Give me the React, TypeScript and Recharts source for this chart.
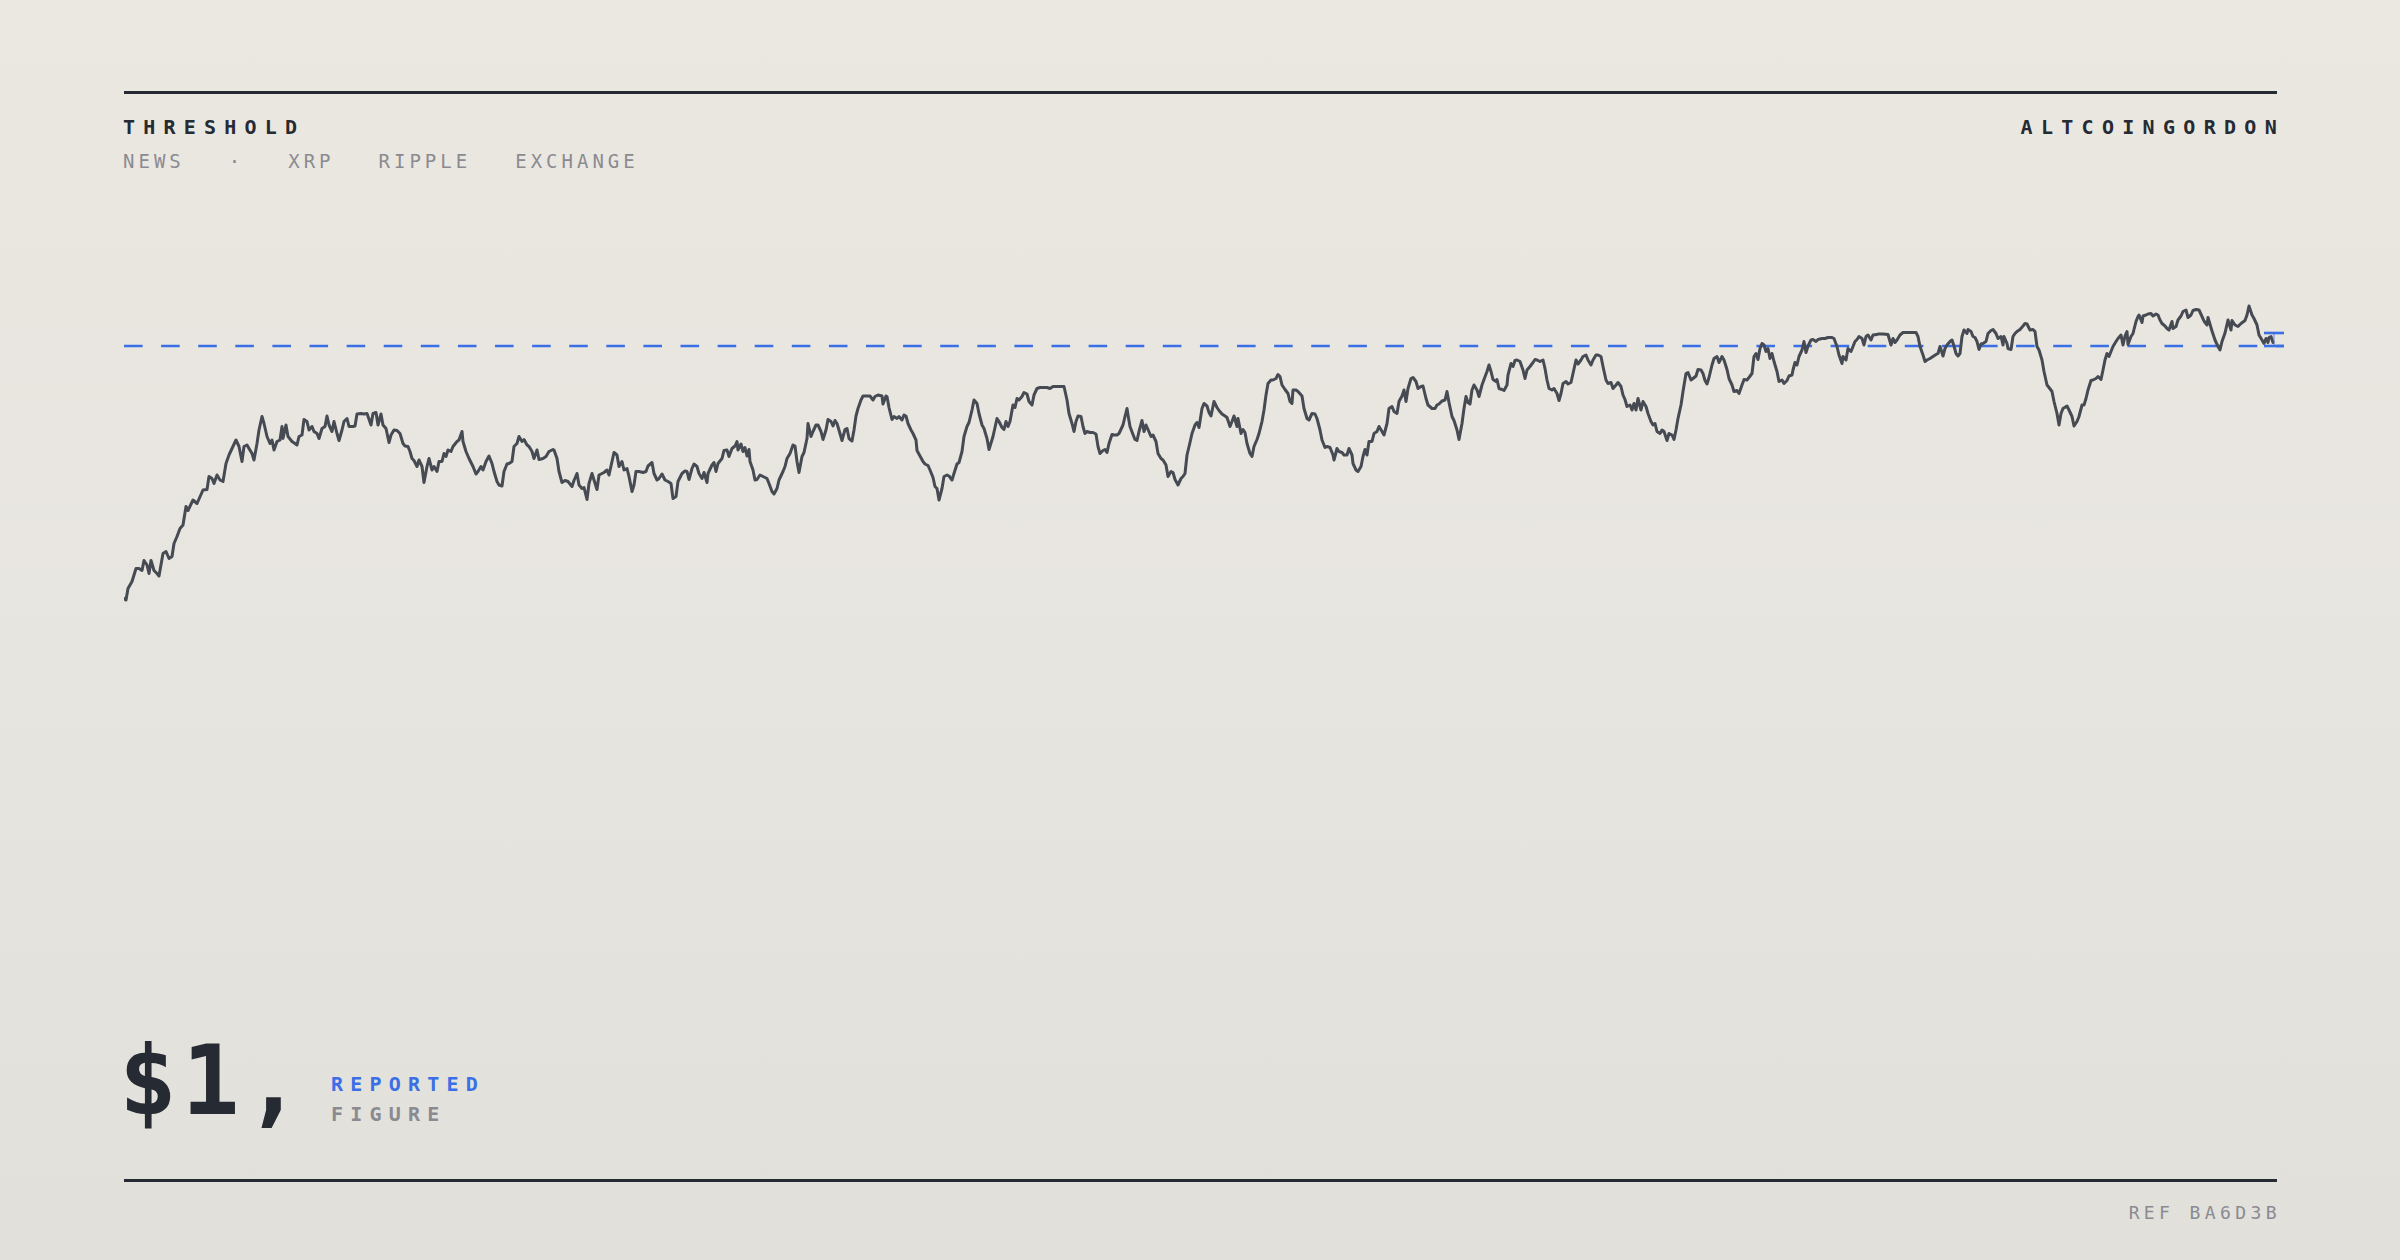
import React from 'react';
import { LineChart, Line, XAxis, YAxis, ReferenceLine } from 'recharts';

// [hour, price] readings, split into five stretches of the series
const stretch1: [number, number][] = [
  [0, 0.495], [2, 0.492], [4, 0.515], [8, 0.529], [12, 0.555], [15, 0.555], [18, 0.551], [20, 0.571],
  [23, 0.562], [25, 0.545], [27, 0.571], [30, 0.551], [33, 0.545], [35, 0.54], [39, 0.585], [42, 0.589],
  [45, 0.575], [48, 0.579], [50, 0.605], [53, 0.619], [56, 0.635], [59, 0.642], [62, 0.679], [64, 0.671],
  [69, 0.692], [73, 0.685], [79, 0.712], [83, 0.713], [85, 0.739], [88, 0.735], [90, 0.725], [93, 0.742],
  [96, 0.732], [99, 0.729], [102, 0.765], [105, 0.782], [108, 0.795], [112, 0.812], [115, 0.799], [118, 0.769],
  [120, 0.799], [123, 0.802], [125, 0.795], [128, 0.785], [130, 0.772], [133, 0.805], [135, 0.832], [138, 0.859],
  [140, 0.845], [143, 0.819], [146, 0.805], [148, 0.812], [150, 0.792], [153, 0.809], [156, 0.812], [158, 0.839],
  [159, 0.815], [162, 0.842], [164, 0.819], [168, 0.809], [171, 0.805], [173, 0.802], [175, 0.819], [178, 0.822],
  [180, 0.853], [183, 0.849], [185, 0.832], [188, 0.839], [190, 0.829], [193, 0.825], [195, 0.815], [198, 0.835],
  [201, 0.839], [203, 0.86], [205, 0.842], [208, 0.829], [210, 0.849], [213, 0.825], [215, 0.811], [218, 0.832],
  [220, 0.849], [223, 0.855], [225, 0.839], [229, 0.839], [231, 0.84], [233, 0.864], [237, 0.865], [240, 0.864],
  [243, 0.865], [247, 0.842], [249, 0.865], [252, 0.867], [254, 0.842], [257, 0.864], [259, 0.842], [262, 0.835],
  [265, 0.807], [267, 0.822], [270, 0.832], [273, 0.831], [276, 0.825], [279, 0.805], [281, 0.8], [284, 0.799],
  [286, 0.789], [288, 0.775], [290, 0.771], [293, 0.759], [295, 0.772], [298, 0.759], [300, 0.727], [303, 0.759],
  [305, 0.775], [308, 0.752], [310, 0.759], [313, 0.749], [315, 0.769], [318, 0.769], [320, 0.785], [322, 0.779],
  [324, 0.792], [327, 0.789], [329, 0.799], [333, 0.809], [335, 0.812], [338, 0.829], [339, 0.809], [342, 0.789],
  [345, 0.775], [349, 0.759], [352, 0.744], [354, 0.749], [357, 0.759], [359, 0.752], [362, 0.769], [365, 0.78],
  [368, 0.765], [370, 0.749], [373, 0.729], [375, 0.722], [378, 0.72], [380, 0.749], [383, 0.764], [385, 0.765],
  [388, 0.769], [390, 0.799], [393, 0.805], [395, 0.819], [398, 0.809], [400, 0.813], [403, 0.802], [405, 0.799],
  [408, 0.789], [410, 0.775], [413, 0.792], [415, 0.773], [419, 0.775], [422, 0.779], [425, 0.789], [429, 0.793],
];

const stretch2: [number, number][] = [
  [430, 0.792], [433, 0.775], [435, 0.749], [438, 0.727], [441, 0.731], [444, 0.729], [448, 0.719], [450, 0.731],
  [453, 0.745], [455, 0.722], [458, 0.715], [460, 0.717], [463, 0.693], [465, 0.725], [468, 0.745], [470, 0.732],
  [473, 0.713], [475, 0.742], [478, 0.745], [480, 0.747], [483, 0.752], [485, 0.742], [488, 0.769], [490, 0.787],
  [493, 0.782], [495, 0.759], [498, 0.769], [500, 0.752], [503, 0.755], [505, 0.739], [508, 0.709], [510, 0.722],
  [512, 0.749], [515, 0.749], [519, 0.747], [522, 0.749], [524, 0.76], [528, 0.767], [530, 0.745], [533, 0.732],
  [535, 0.735], [538, 0.744], [541, 0.732], [544, 0.729], [547, 0.725], [549, 0.695], [552, 0.699], [554, 0.729],
  [558, 0.745], [561, 0.75], [563, 0.749], [565, 0.733], [568, 0.755], [570, 0.764], [573, 0.759], [575, 0.745],
  [578, 0.735], [580, 0.747], [583, 0.727], [584, 0.745], [588, 0.762], [590, 0.767], [592, 0.749], [594, 0.765],
  [598, 0.775], [600, 0.791], [603, 0.792], [605, 0.779], [608, 0.795], [611, 0.8], [613, 0.809], [614, 0.792],
  [617, 0.804], [619, 0.789], [621, 0.797], [623, 0.78], [625, 0.793], [626, 0.769], [629, 0.752], [631, 0.732],
  [633, 0.733], [636, 0.742], [639, 0.739], [643, 0.735], [645, 0.725], [648, 0.709], [650, 0.704], [653, 0.715],
  [655, 0.732], [659, 0.749], [661, 0.759], [663, 0.775], [666, 0.785], [669, 0.802], [671, 0.8], [673, 0.769],
  [675, 0.747], [678, 0.779], [680, 0.787], [683, 0.815], [684, 0.845], [687, 0.819], [689, 0.829], [692, 0.842],
  [694, 0.842], [697, 0.829], [699, 0.813], [702, 0.832], [704, 0.853], [707, 0.849], [709, 0.84], [711, 0.851],
  [713, 0.845], [716, 0.825], [718, 0.811], [721, 0.833], [723, 0.835], [725, 0.815], [728, 0.81], [730, 0.832],
  [732, 0.86], [734, 0.875], [737, 0.892], [739, 0.9], [743, 0.9], [746, 0.9], [749, 0.892], [751, 0.899],
  [754, 0.902], [758, 0.9], [759, 0.884], [762, 0.9], [763, 0.899], [765, 0.877], [768, 0.853], [770, 0.859],
  [773, 0.855], [775, 0.859], [778, 0.852], [780, 0.862], [782, 0.86], [784, 0.845], [787, 0.832], [789, 0.825],
  [792, 0.812], [793, 0.791], [796, 0.78], [799, 0.769], [801, 0.764], [804, 0.761], [806, 0.752], [809, 0.737],
  [811, 0.719], [813, 0.715], [815, 0.692], [818, 0.715], [820, 0.739], [823, 0.742], [825, 0.74], [828, 0.732],
  [830, 0.745], [833, 0.764], [835, 0.767], [838, 0.789], [840, 0.819], [843, 0.839], [845, 0.847], [848, 0.872],
  [850, 0.892], [853, 0.885], [855, 0.865], [858, 0.842], [860, 0.835], [863, 0.815], [865, 0.793],
];

const stretch3: [number, number][] = [
  [869, 0.819], [873, 0.855], [875, 0.849], [878, 0.837], [880, 0.833], [882, 0.849], [884, 0.839], [886, 0.849],
  [889, 0.882], [891, 0.877], [893, 0.895], [895, 0.892], [898, 0.899], [900, 0.907], [903, 0.904], [905, 0.889],
  [908, 0.882], [910, 0.902], [913, 0.915], [916, 0.917], [919, 0.917], [923, 0.917], [926, 0.915], [929, 0.919],
  [933, 0.919], [937, 0.919], [940, 0.919], [943, 0.892], [945, 0.865], [948, 0.845], [950, 0.829], [952, 0.849],
  [954, 0.86], [957, 0.859], [959, 0.839], [961, 0.825], [963, 0.829], [966, 0.827], [969, 0.827], [972, 0.824],
  [974, 0.799], [976, 0.785], [979, 0.791], [981, 0.793], [983, 0.787], [985, 0.805], [988, 0.823], [990, 0.822],
  [993, 0.822], [995, 0.825], [999, 0.842], [1001, 0.859], [1003, 0.875], [1004, 0.862], [1006, 0.839], [1009, 0.823],
  [1011, 0.813], [1013, 0.811], [1015, 0.829], [1018, 0.851], [1020, 0.829], [1022, 0.842], [1024, 0.833], [1027, 0.819],
  [1029, 0.822], [1032, 0.809], [1034, 0.785], [1037, 0.775], [1039, 0.772], [1042, 0.762], [1044, 0.739], [1047, 0.749],
  [1049, 0.747], [1051, 0.733], [1054, 0.722], [1057, 0.735], [1059, 0.739], [1061, 0.745], [1063, 0.782], [1066, 0.807],
  [1068, 0.825], [1071, 0.842], [1073, 0.847], [1075, 0.837], [1078, 0.875], [1080, 0.885], [1083, 0.88], [1085, 0.867],
  [1087, 0.86], [1090, 0.889], [1093, 0.877], [1095, 0.871], [1098, 0.864], [1101, 0.86], [1103, 0.857], [1106, 0.839],
  [1108, 0.849], [1110, 0.86], [1113, 0.839], [1114, 0.855], [1117, 0.825], [1119, 0.833], [1121, 0.827], [1123, 0.805],
  [1126, 0.785], [1128, 0.779], [1130, 0.799], [1133, 0.813], [1135, 0.825], [1138, 0.849], [1140, 0.872], [1142, 0.902],
  [1144, 0.925], [1147, 0.932], [1149, 0.932], [1152, 0.935], [1154, 0.943], [1156, 0.939], [1158, 0.922], [1161, 0.913],
  [1164, 0.905], [1166, 0.889], [1168, 0.885], [1169, 0.912], [1172, 0.912], [1174, 0.909], [1178, 0.9], [1180, 0.875],
  [1183, 0.855], [1185, 0.852], [1188, 0.865], [1191, 0.864], [1193, 0.855], [1196, 0.832], [1198, 0.812], [1201, 0.797],
  [1203, 0.799], [1206, 0.797], [1209, 0.782], [1210, 0.772], [1213, 0.795], [1215, 0.789], [1218, 0.787], [1220, 0.782],
  [1223, 0.782], [1225, 0.795], [1228, 0.782], [1229, 0.765], [1232, 0.752], [1234, 0.749], [1237, 0.759], [1239, 0.779],
  [1241, 0.793], [1243, 0.782], [1245, 0.809], [1248, 0.809], [1250, 0.825], [1253, 0.829], [1255, 0.839], [1258, 0.829],
  [1260, 0.822], [1263, 0.845], [1265, 0.875], [1268, 0.879], [1270, 0.869], [1273, 0.865], [1275, 0.889], [1278, 0.9],
  [1280, 0.912], [1282, 0.889], [1284, 0.915], [1287, 0.935], [1289, 0.937], [1292, 0.929], [1294, 0.915], [1297, 0.919],
  [1299, 0.92], [1302, 0.895], [1304, 0.882], [1308, 0.875], [1311, 0.875], [1313, 0.882],
];

const stretch4: [number, number][] = [
  [1315, 0.884], [1318, 0.89], [1321, 0.892], [1323, 0.909], [1325, 0.887], [1328, 0.859], [1330, 0.851], [1333, 0.832],
  [1335, 0.813], [1338, 0.845], [1340, 0.875], [1342, 0.899], [1344, 0.887], [1346, 0.884], [1348, 0.912], [1350, 0.922],
  [1353, 0.912], [1355, 0.899], [1358, 0.922], [1360, 0.933], [1363, 0.949], [1365, 0.962], [1367, 0.949], [1369, 0.933],
  [1372, 0.929], [1373, 0.933], [1375, 0.915], [1378, 0.913], [1380, 0.911], [1383, 0.922], [1384, 0.942], [1387, 0.965],
  [1389, 0.959], [1391, 0.971], [1393, 0.972], [1396, 0.969], [1399, 0.952], [1401, 0.935], [1403, 0.952], [1406, 0.959],
  [1409, 0.967], [1411, 0.973], [1413, 0.972], [1416, 0.969], [1419, 0.972], [1421, 0.955], [1423, 0.932], [1425, 0.915],
  [1428, 0.912], [1430, 0.915], [1433, 0.905], [1435, 0.891], [1437, 0.905], [1439, 0.925], [1442, 0.929], [1444, 0.924],
  [1447, 0.927], [1449, 0.945], [1452, 0.972], [1454, 0.964], [1457, 0.972], [1459, 0.979], [1462, 0.982], [1464, 0.972],
  [1467, 0.962], [1469, 0.972], [1472, 0.982], [1474, 0.982], [1477, 0.979], [1479, 0.959], [1482, 0.932], [1484, 0.925],
  [1487, 0.927], [1489, 0.915], [1492, 0.922], [1494, 0.927], [1497, 0.919], [1499, 0.902], [1501, 0.893], [1503, 0.879],
  [1506, 0.882], [1508, 0.872], [1510, 0.885], [1512, 0.872], [1514, 0.895], [1517, 0.872], [1519, 0.889], [1522, 0.879],
  [1524, 0.865], [1527, 0.849], [1529, 0.842], [1531, 0.845], [1533, 0.829], [1536, 0.825], [1538, 0.832], [1540, 0.829],
  [1543, 0.811], [1545, 0.825], [1548, 0.822], [1550, 0.813], [1552, 0.832], [1554, 0.855], [1557, 0.882], [1559, 0.909],
  [1562, 0.945], [1564, 0.947], [1567, 0.932], [1569, 0.935], [1572, 0.94], [1574, 0.953], [1577, 0.952], [1579, 0.945],
  [1581, 0.931], [1583, 0.924], [1585, 0.937], [1588, 0.962], [1590, 0.975], [1593, 0.979], [1595, 0.967], [1598, 0.979],
  [1600, 0.972], [1603, 0.953], [1605, 0.935], [1608, 0.922], [1610, 0.909], [1613, 0.911], [1615, 0.905], [1618, 0.922],
  [1620, 0.933], [1623, 0.932], [1625, 0.937], [1628, 0.945], [1630, 0.979], [1632, 0.985], [1634, 0.973], [1636, 0.995],
  [1638, 1.005], [1640, 1.002], [1642, 0.989], [1644, 0.995], [1646, 0.975], [1648, 0.985], [1650, 0.969], [1653, 0.949],
  [1655, 0.929], [1658, 0.932], [1660, 0.925], [1663, 0.931], [1665, 0.94], [1668, 0.942], [1669, 0.952], [1671, 0.967],
  [1673, 0.962], [1675, 0.979], [1678, 0.992], [1680, 1.009], [1682, 0.987], [1684, 1.0], [1687, 1.012], [1689, 1.013],
  [1692, 1.009], [1694, 1.013], [1698, 1.015], [1701, 1.015], [1704, 1.017], [1708, 1.017], [1710, 1.015], [1713, 0.999],
  [1715, 0.982], [1718, 0.965], [1719, 0.979], [1722, 0.972], [1724, 0.995], [1727, 0.989], [1729, 0.999], [1731, 1.009],
  [1733, 1.013], [1735, 1.019], [1738, 1.015], [1740, 1.002], [1742, 1.019], [1744, 1.022], [1747, 1.012], [1749, 1.022],
  [1753, 1.023],
];

const stretch5: [number, number][] = [
  [1754, 1.024], [1759, 1.024], [1764, 1.023], [1767, 1.002], [1769, 1.015], [1771, 1.007], [1773, 1.012], [1776, 1.022],
  [1779, 1.027], [1783, 1.027], [1788, 1.027], [1792, 1.027], [1794, 1.019], [1796, 0.999], [1799, 0.982], [1801, 0.969],
  [1803, 0.972], [1806, 0.975], [1809, 0.979], [1812, 0.983], [1814, 0.985], [1816, 0.999], [1819, 0.98], [1821, 0.995],
  [1823, 1.002], [1826, 1.009], [1828, 1.012], [1830, 1.0], [1832, 0.985], [1834, 0.98], [1836, 0.985], [1838, 1.019],
  [1840, 1.032], [1843, 1.025], [1844, 1.033], [1847, 1.029], [1849, 1.019], [1851, 1.017], [1853, 1.009], [1855, 0.993],
  [1857, 1.004], [1859, 1.005], [1862, 1.009], [1864, 1.025], [1867, 1.031], [1869, 1.033], [1872, 1.025], [1874, 1.015],
  [1877, 1.019], [1879, 1.002], [1880, 1.019], [1883, 1.005], [1884, 0.995], [1887, 0.993], [1889, 1.019], [1891, 1.025],
  [1893, 1.029], [1896, 1.033], [1899, 1.04], [1901, 1.045], [1903, 1.044], [1906, 1.032], [1909, 1.033], [1911, 1.029],
  [1913, 0.999], [1915, 0.992], [1918, 0.972], [1920, 0.949], [1923, 0.922], [1925, 0.917], [1928, 0.909], [1930, 0.889],
  [1933, 0.865], [1935, 0.842], [1937, 0.865], [1939, 0.875], [1943, 0.88], [1945, 0.872], [1948, 0.859], [1950, 0.84],
  [1953, 0.849], [1955, 0.859], [1958, 0.882], [1960, 0.882], [1962, 0.895], [1964, 0.912], [1967, 0.931], [1969, 0.932],
  [1972, 0.935], [1974, 0.939], [1977, 0.933], [1979, 0.952], [1981, 0.972], [1983, 0.985], [1985, 0.979], [1987, 0.989],
  [1989, 0.999], [1992, 1.009], [1994, 1.015], [1997, 1.022], [1999, 1.002], [2001, 1.02], [2003, 1.029], [2004, 1.003],
  [2007, 1.019], [2009, 1.025], [2012, 1.049], [2014, 1.059], [2015, 1.062], [2018, 1.047], [2019, 1.06], [2022, 1.062],
  [2024, 1.064], [2027, 1.065], [2029, 1.06], [2032, 1.064], [2034, 1.062], [2036, 1.052], [2038, 1.045], [2041, 1.04],
  [2043, 1.035], [2045, 1.032], [2048, 1.049], [2049, 1.035], [2052, 1.039], [2054, 1.052], [2057, 1.06], [2059, 1.069],
  [2062, 1.072], [2064, 1.057], [2067, 1.062], [2069, 1.071], [2072, 1.073], [2075, 1.072], [2078, 1.059], [2080, 1.05],
  [2083, 1.042], [2084, 1.057], [2088, 1.03], [2091, 1.012], [2094, 0.999], [2096, 0.992], [2098, 1.009], [2101, 1.026],
  [2104, 1.052], [2107, 1.032], [2108, 1.051], [2111, 1.042], [2114, 1.039], [2117, 1.045], [2121, 1.051], [2123, 1.062],
  [2125, 1.08], [2128, 1.062], [2130, 1.055], [2133, 1.042], [2135, 1.022], [2138, 1.012], [2140, 1.005], [2142, 1.015],
  [2144, 1.007], [2145, 1.017], [2147, 1.019], [2149, 1.007],
];

const THRESHOLD_PRICE = 1.0;
const SPOT_HOUR = 2150;
const SPOT_PRICE = 1.026;
const SPOT_HALF_WIDTH = 10;
const HOUR_DOMAIN: [number, number] = [0, 2160];
const PRICE_DOMAIN: [number, number] = [0.45, 1.1];

const TITLE = 'THRESHOLD';
const BRAND = 'ALTCOINGORDON';
const TAGS = ['NEWS', '·', 'XRP', 'RIPPLE', 'EXCHANGE'];
const HEADLINE = '$1,';
const LABEL_TOP = 'REPORTED';
const LABEL_BOTTOM = 'FIGURE';
const REF_CODE = 'REF BA6D3B';

const series = [...stretch1, ...stretch2, ...stretch3, ...stretch4, ...stretch5].map(([h, p]) => ({ h, p }));

const INK = '#262a33';
const GREY = '#8a8b91';
const BLUE = '#3a6fe6';
const LINE = '#464a53';
const MONO = '"DejaVu Sans Mono", "Liberation Mono", monospace';

export default function App() {
  return (
    <div
      style={{
        position: 'relative',
        width: 2400,
        height: 1260,
        overflow: 'hidden',
        background: 'linear-gradient(180deg, #ebe8e1 0%, #e7e5df 50%, #e1e0db 100%)',
        fontFamily: MONO,
      }}
    >
      <style>{`body{margin:0;}`}</style>
      {/* top rule */}
      <div style={{ position: 'absolute', left: 124, top: 91, width: 2153, height: 3, background: INK }} />
      {/* title */}
      <div
        style={{
          position: 'absolute', left: 123, top: 117, fontSize: 20, lineHeight: '20px',
          fontWeight: 700, letterSpacing: 8.2, color: INK, whiteSpace: 'nowrap',
        }}
      >
        {TITLE}
      </div>
      <div
        style={{
          position: 'absolute', right: 2400 - 2277 - 8, top: 117, fontSize: 20, lineHeight: '20px',
          fontWeight: 700, letterSpacing: 8.3, color: INK, whiteSpace: 'nowrap',
        }}
      >
        {BRAND}
      </div>
      <div
        style={{
          position: 'absolute', left: 123, top: 152, fontSize: 19, lineHeight: '19px',
          letterSpacing: 4, color: GREY, display: 'flex', gap: 44, whiteSpace: 'nowrap',
        }}
      >
        {TAGS.map((t) => (
          <span key={t}>{t}</span>
        ))}
      </div>

      {/* chart */}
      <div style={{ position: 'absolute', left: 124, top: 296 }}>
        <LineChart width={2160} height={325} data={series} margin={{ top: 0, right: 0, bottom: 0, left: 0 }}>
          <XAxis type="number" dataKey="h" domain={HOUR_DOMAIN} hide allowDataOverflow />
          <YAxis type="number" domain={PRICE_DOMAIN} hide allowDataOverflow />
          <ReferenceLine
            y={THRESHOLD_PRICE}
            stroke={BLUE}
            strokeWidth={2.6}
            strokeDasharray="18.6 18.5"
          />
          <Line
            type="linear"
            dataKey="p"
            stroke={LINE}
            strokeWidth={3}
            strokeLinejoin="round"
            strokeLinecap="round"
            dot={false}
            isAnimationActive={false}
          />
          <ReferenceLine
            segment={[
              { x: SPOT_HOUR, y: THRESHOLD_PRICE },
              { x: SPOT_HOUR, y: SPOT_PRICE },
            ]}
            stroke={BLUE}
            strokeOpacity={0.55}
            strokeWidth={1.5}
          />
          <ReferenceLine
            segment={[
              { x: SPOT_HOUR - SPOT_HALF_WIDTH, y: SPOT_PRICE },
              { x: SPOT_HOUR + SPOT_HALF_WIDTH, y: SPOT_PRICE },
            ]}
            stroke={BLUE}
            strokeWidth={2.6}
          />
          <ReferenceLine
            segment={[
              { x: SPOT_HOUR - SPOT_HALF_WIDTH, y: THRESHOLD_PRICE },
              { x: SPOT_HOUR + SPOT_HALF_WIDTH, y: THRESHOLD_PRICE },
            ]}
            stroke={BLUE}
            strokeWidth={2.6}
          />
        </LineChart>
      </div>

      {/* headline figure */}
      <div
        style={{
          position: 'absolute', left: 119, top: 1032.8, fontSize: 96, lineHeight: '96px',
          fontWeight: 700, letterSpacing: 5, color: INK, whiteSpace: 'nowrap',
        }}
      >
        {HEADLINE}
      </div>
      <div
        style={{
          position: 'absolute', left: 331, top: 1073.8, fontSize: 20, lineHeight: '20px',
          fontWeight: 700, letterSpacing: 7.2, color: BLUE, whiteSpace: 'nowrap',
        }}
      >
        {LABEL_TOP}
      </div>
      <div
        style={{
          position: 'absolute', left: 331, top: 1103.8, fontSize: 20, lineHeight: '20px',
          fontWeight: 700, letterSpacing: 7.2, color: GREY, whiteSpace: 'nowrap',
        }}
      >
        {LABEL_BOTTOM}
      </div>

      {/* bottom rule */}
      <div style={{ position: 'absolute', left: 124, top: 1179, width: 2153, height: 3, background: INK }} />
      <div
        style={{
          position: 'absolute', right: 2400 - 2277 - 4, top: 1204, fontSize: 18, lineHeight: '18px',
          letterSpacing: 4.4, color: GREY, whiteSpace: 'nowrap',
        }}
      >
        {REF_CODE}
      </div>
    </div>
  );
}
